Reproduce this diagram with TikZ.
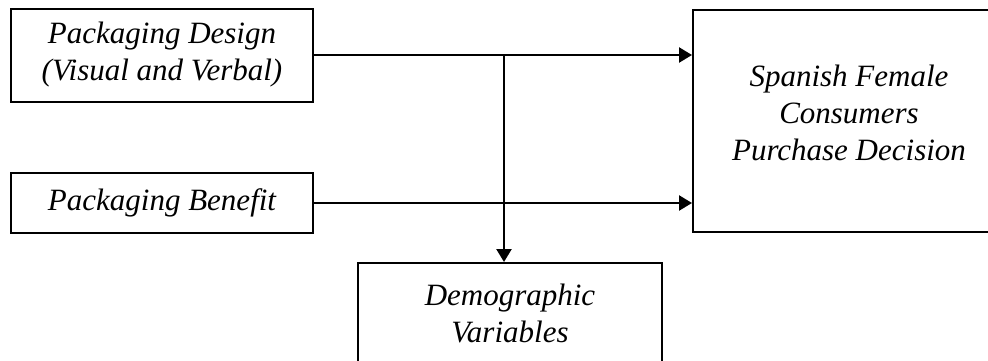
\documentclass[tikz,border=0pt]{standalone}
\usepackage{fontspec}
\setmainfont{Liberation Serif}
\usetikzlibrary{arrows.meta,positioning,calc}

\begin{document}
\begin{tikzpicture}[x=1pt, y=1pt,
    var/.style={draw, line width=2pt, align=center, inner sep=0pt,
        font=\fontsize{31}{37}\selectfont\itshape},
    arr/.style={-{Triangle[length=13pt, width=15pt]}, line width=2.4pt}
]
\useasboundingbox (0,0) rectangle (988,360);

\node[var, minimum width=302pt, minimum height=93pt] (design) at (162,305) {Packaging Design\\(Visual and Verbal)};
\node[var, minimum width=302pt, minimum height=60pt] (benefit) at (162,157) {Packaging Benefit};
\node[var, minimum width=312pt, minimum height=222pt, text depth=16pt] (decision) at (849,239) {Spanish Female\\Consumers\\Purchase Decision};
\node[var, minimum width=304pt, minimum height=100pt] (demog) at (510,47) {Demographic\\Variables};

\coordinate (split) at (504,0 |- design.east);

\draw[arr] (design.east) -- (design.east -| decision.west);
\draw[arr] (benefit.east) -- (benefit.east -| decision.west);
\draw[arr] (split) -- (split |- demog.north);
\end{tikzpicture}
\end{document}
